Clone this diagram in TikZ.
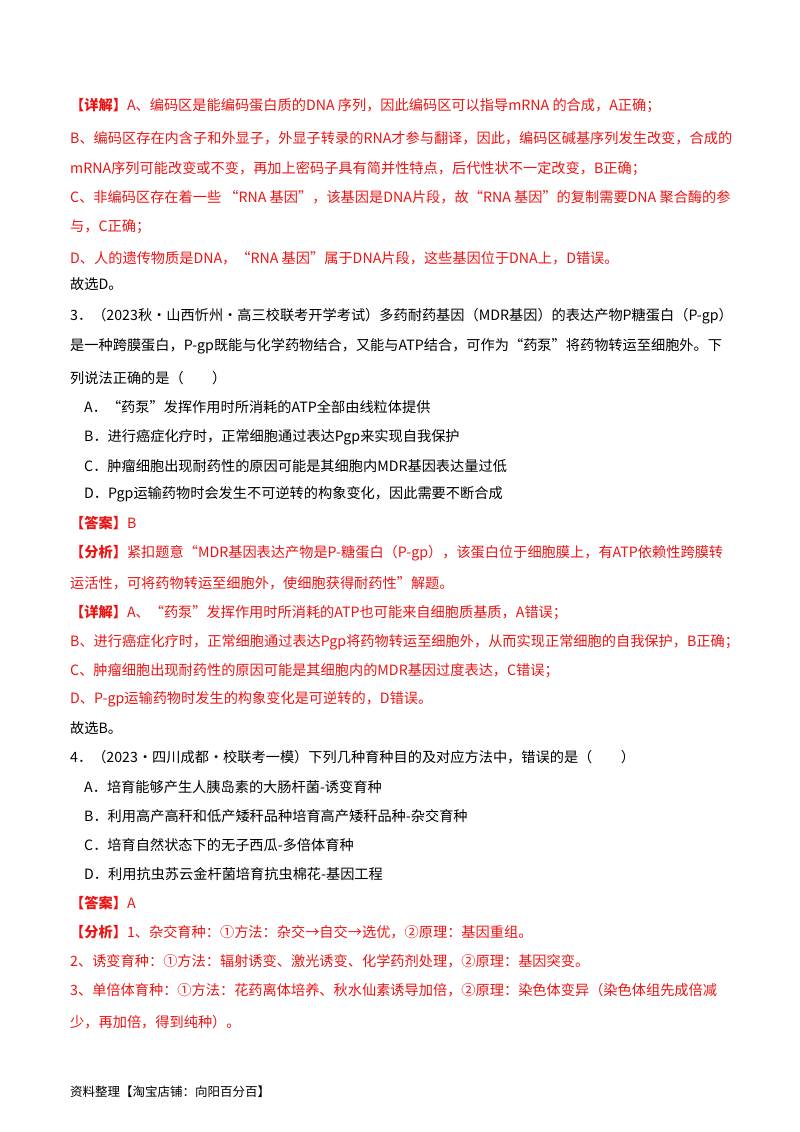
\documentclass[tikz,border=0pt]{standalone}
\usepackage{fontspec}
\setmainfont{Noto Sans CJK SC}
\usepackage{xcolor}
\definecolor{ansred}{RGB}{235,20,20}
\begin{document}
\begin{tikzpicture}[x=1pt,y=-1pt,
    line/.style={anchor=west, inner sep=0pt, font=\fontsize{14.2}{16}\selectfont},
    redline/.style={line, text=ansred},
    tag/.style={font=\bfseries}]
    % Page
    \useasboundingbox (0,0) rectangle (800,1132);

    % Question 2, worked answer
    \node[redline] (d1) at (70,106) {{\bfseries 【详解】}A、编码区是能编码蛋白质的DNA 序列，因此编码区可以指导mRNA 的合成，A正确；};
    \node[redline] (d2) at (70,138) {B、编码区存在内含子和外显子，外显子转录的RNA才参与翻译，因此，编码区碱基序列发生改变，合成的};
    \node[redline] (d3) at (70,169) {mRNA序列可能改变或不变，再加上密码子具有简并性特点，后代性状不一定改变，B正确；};
    \node[redline] (d4) at (70,197) {C、非编码区存在着一些 “RNA 基因”，该基因是DNA片段，故“RNA 基因”的复制需要DNA 聚合酶的参};
    \node[redline] (d5) at (70,227) {与，C正确；};
    \node[redline] (d6) at (70,258) {D、人的遗传物质是DNA，“RNA 基因”属于DNA片段，这些基因位于DNA上，D错误。};
    \node[line] (s2) at (70,284) {故选D。};

    % Question 3
    \node[line] (q3a) at (70,316) {3．（2023秋·山西忻州·高三校联考开学考试）多药耐药基因（MDR基因）的表达产物P糖蛋白（P-gp）};
    \node[line] (q3b) at (70,346) {是一种跨膜蛋白，P-gp既能与化学药物结合，又能与ATP结合，可作为“药泵”将药物转运至细胞外。下};
    \node[line] (q3c) at (70,378) {列说法正确的是（\quad\quad）};
    \node[line] (o3a) at (84,407) {A．“药泵”发挥作用时所消耗的ATP全部由线粒体提供};
    \node[line] (o3b) at (84,437) {B．进行癌症化疗时，正常细胞通过表达Pgp来实现自我保护};
    \node[line] (o3c) at (84,466) {C．肿瘤细胞出现耐药性的原因可能是其细胞内MDR基因表达量过低};
    \node[line] (o3d) at (84,494) {D．Pgp运输药物时会发生不可逆转的构象变化，因此需要不断合成};
    \node[redline] (a3) at (70,523) {{\bfseries 【答案】}B};
    \node[redline] (f3a) at (70,553) {{\bfseries 【分析】}紧扣题意“MDR基因表达产物是P-糖蛋白（P-gp），该蛋白位于细胞膜上，有ATP依赖性跨膜转};
    \node[redline] (f3b) at (70,583) {运活性，可将药物转运至细胞外，使细胞获得耐药性”解题。};
    \node[redline] (x3a) at (70,613) {{\bfseries 【详解】}A、“药泵”发挥作用时所消耗的ATP也可能来自细胞质基质，A错误；};
    \node[redline] (x3b) at (70,642) {B、进行癌症化疗时，正常细胞通过表达Pgp将药物转运至细胞外，从而实现正常细胞的自我保护，B正确；};
    \node[redline] (x3c) at (70,671) {C、肿瘤细胞出现耐药性的原因可能是其细胞内的MDR基因过度表达，C错误；};
    \node[redline] (x3d) at (70,699) {D、P-gp运输药物时发生的构象变化是可逆转的，D错误。};
    \node[line] (s3) at (70,728) {故选B。};

    % Question 4
    \node[line] (q4) at (70,757) {4．（2023·四川成都·校联考一模）下列几种育种目的及对应方法中，错误的是（\quad\quad）};
    \node[line] (o4a) at (84,787) {A．培育能够产生人胰岛素的大肠杆菌-诱变育种};
    \node[line] (o4b) at (84,816) {B．利用高产高秆和低产矮秆品种培育高产矮秆品种-杂交育种};
    \node[line] (o4c) at (84,845) {C．培育自然状态下的无子西瓜-多倍体育种};
    \node[line] (o4d) at (84,874) {D．利用抗虫苏云金杆菌培育抗虫棉花-基因工程};
    \node[redline] (a4) at (70,903) {{\bfseries 【答案】}A};
    \node[redline] (f4a) at (70,932) {{\bfseries 【分析】}1、杂交育种：①方法：杂交→自交→选优，②原理：基因重组。};
    \node[redline] (f4b) at (70,961) {2、诱变育种：①方法：辐射诱变、激光诱变、化学药剂处理，②原理：基因突变。};
    \node[redline] (f4c) at (70,990) {3、单倍体育种：①方法：花药离体培养、秋水仙素诱导加倍，②原理：染色体变异（染色体组先成倍减};
    \node[redline] (f4d) at (70,1022) {少，再加倍，得到纯种）。};

    % Footer
    \node[line, font=\fontsize{12.5}{14}\selectfont] (foot) at (70,1092) {资料整理【淘宝店铺：向阳百分百】};
\end{tikzpicture}
\end{document}
